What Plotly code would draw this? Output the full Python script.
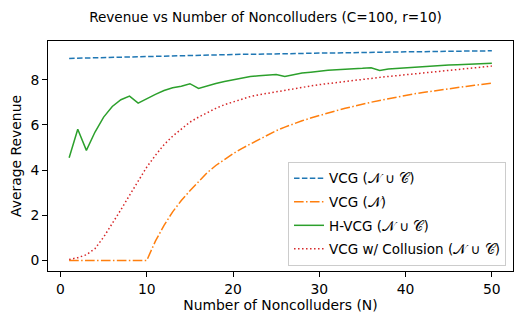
import plotly.graph_objects as go

n_vals = list(range(1, 51))

vcg_all = [
    8.94, 8.95, 8.96, 8.97, 8.98, 8.99, 9.00, 9.01, 9.02, 9.03,
    9.04, 9.05, 9.06, 9.07, 9.07, 9.08, 9.09, 9.10, 9.10, 9.11,
    9.12, 9.12, 9.13, 9.14, 9.14, 9.15, 9.16, 9.16, 9.17, 9.17,
    9.18, 9.18, 9.19, 9.19, 9.20, 9.21, 9.21, 9.22, 9.22, 9.23,
    9.23, 9.24, 9.24, 9.25, 9.25, 9.26, 9.26, 9.27, 9.27, 9.28,
]

vcg_n = [
    0.0, 0.0, 0.0, 0.0, 0.0, 0.0, 0.0, 0.0, 0.0, 0.0,
    0.85, 1.55, 2.15, 2.65, 3.08, 3.50, 3.88, 4.20, 4.47, 4.72,
    4.95, 5.15, 5.35, 5.55, 5.74, 5.90, 6.05, 6.18, 6.30, 6.42,
    6.53, 6.63, 6.73, 6.83, 6.92, 7.00, 7.08, 7.16, 7.23, 7.30,
    7.37, 7.43, 7.49, 7.55, 7.60, 7.65, 7.70, 7.75, 7.80, 7.85,
]

hvcg_all = [
    4.54, 5.80, 4.87, 5.68, 6.34, 6.81, 7.11, 7.27, 6.96, 7.17,
    7.35, 7.52, 7.64, 7.71, 7.82, 7.61, 7.73, 7.83, 7.92, 8.00,
    8.08, 8.14, 8.17, 8.20, 8.23, 8.14, 8.23, 8.29, 8.33, 8.38,
    8.41, 8.44, 8.45, 8.48, 8.50, 8.53, 8.41, 8.47, 8.50, 8.53,
    8.56, 8.58, 8.61, 8.63, 8.65, 8.66, 8.68, 8.70, 8.72, 8.73,
]

vcg_collusion = [
    0.04, 0.12, 0.25, 0.52, 1.03, 1.62, 2.24, 2.88, 3.51, 4.13,
    4.65, 5.12, 5.50, 5.83, 6.12, 6.34, 6.55, 6.73, 6.89, 7.02,
    7.14, 7.25, 7.33, 7.40, 7.46, 7.53, 7.60, 7.66, 7.72, 7.78,
    7.83, 7.88, 7.93, 7.98, 8.02, 8.06, 8.10, 8.14, 8.18, 8.22,
    8.26, 8.29, 8.33, 8.36, 8.40, 8.44, 8.48, 8.52, 8.56, 8.60,
]

fig = go.Figure()

fig.add_trace(go.Scatter(x=n_vals, y=vcg_all, mode="lines",
                         name="VCG (𝒩 ∪ 𝒞)", legendgroup="a",
                         line=dict(color="#1f77b4", width=1.5, dash="5.5px,2.4px")))
fig.add_trace(go.Scatter(x=n_vals, y=vcg_n, mode="lines",
                         name="VCG (𝒩)", legendgroup="b",
                         line=dict(color="#ff7f0e", width=1.5,
                                   dash="9.6px,2.4px,1.5px,2.4px")))
fig.add_trace(go.Scatter(x=n_vals, y=hvcg_all, mode="lines",
                         name="H-VCG (𝒩 ∪ 𝒞)", legendgroup="c",
                         line=dict(color="#2ca02c", width=1.5)))
fig.add_trace(go.Scatter(x=n_vals, y=vcg_collusion, mode="lines",
                         name="VCG w/ Collusion (𝒩 ∪ 𝒞)", legendgroup="d",
                         line=dict(color="#d62728", width=1.5, dash="1.5px,2.5px")))

axis_style = dict(
    showgrid=False, zeroline=False, showline=True, linecolor="black",
    linewidth=1, mirror=True, ticks="outside", ticklen=5, tickwidth=1,
    tickcolor="black", tickfont=dict(size=13.9, color="black"),
    automargin=False,
)

# the page body adds an 8px offset, so the figure is 8px smaller each way
fig.update_layout(
    width=515, height=316,
    margin=dict(l=40, r=10, t=33, b=53),
    paper_bgcolor="white", plot_bgcolor="white",
    font=dict(family="DejaVu Sans", color="black"),
    title=dict(text="Revenue vs Number of Noncolluders (C=100, r=10)",
               x=0.5, xanchor="center", y=0.972, yanchor="middle",
               font=dict(size=13.6)),
    xaxis=dict(range=[-1.45, 52.45], tickvals=[0, 10, 20, 30, 40, 50],
               title=dict(text="Number of Noncolluders (N)", font=dict(size=13.9), standoff=4),
               **axis_style),
    yaxis=dict(range=[-0.47, 9.71], tickvals=[0, 2, 4, 6, 8],
               title=dict(text="Average Revenue", font=dict(size=13.9), standoff=6),
               **axis_style),
    legend=dict(x=0.985, y=0.022, xanchor="right", yanchor="bottom",
                bgcolor="rgba(255,255,255,0.8)", bordercolor="#cccccc",
                borderwidth=1, font=dict(size=13.5), itemwidth=30,
                tracegroupgap=3),
    showlegend=True,
)

fig.write_html("out.html")
